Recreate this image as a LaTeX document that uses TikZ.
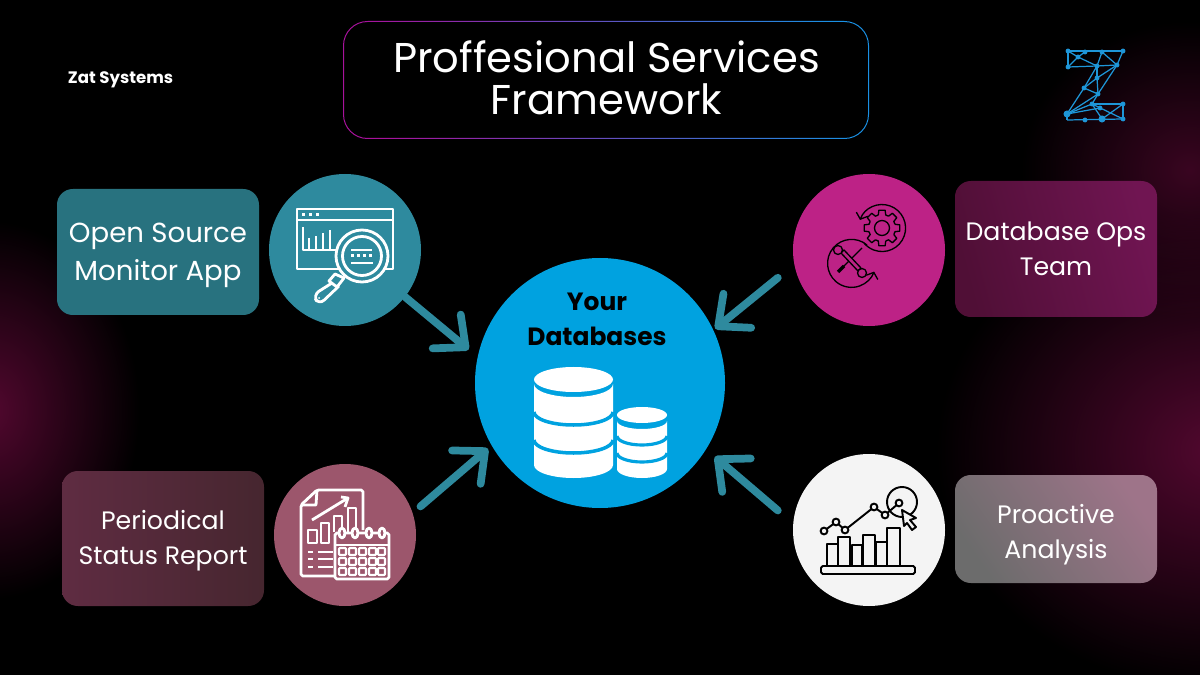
\documentclass[tikz,border=0pt]{standalone}
\usepackage{fontspec}
\setmainfont{Poppins}
\usetikzlibrary{positioning,calc,arrows.meta,fadings}
\definecolor{panelteal}{HTML}{2E8A9E}
\definecolor{panelrose}{HTML}{9C566C}
\definecolor{panelpink}{HTML}{BD2286}
\definecolor{panelgrey}{HTML}{F4F4F4}
\definecolor{dbblue}{HTML}{00A2E0}
\definecolor{logoblue}{HTML}{1E96D8}
\definecolor{glowred}{HTML}{52082F}
\definecolor{tealflat}{HTML}{28727F}
\definecolor{roseleft}{HTML}{5F2C42}
\definecolor{roseright}{HTML}{46262F}
\definecolor{opsleft}{HTML}{500F36}
\definecolor{opsright}{HTML}{701552}
\definecolor{greyleft}{HTML}{6C6C6C}
\definecolor{greyright}{HTML}{9E7489}
\definecolor{framel}{HTML}{A8129C}
\definecolor{framem}{HTML}{3A4AA8}
\definecolor{framer}{HTML}{1A90E4}
\tikzfading[name=glowfade,inner color=transparent!0,outer color=transparent!100]
\tikzset{
  caption/.style={text=white,align=center,font=\fontsize{14.35}{20}\selectfont},
  iconw/.style={draw=white,line width=1.6pt,line join=round},
  iconk/.style={draw=black,line width=1.1pt,line join=round},
  icont/.style={draw=black,line width=.75pt,line join=round},
  linkarrow/.style={draw=panelteal,line width=4.4pt,line cap=round,line join=round,-{Straight Barb[length=14pt,width=25pt,round]}},
  logoline/.style={draw=logoblue,line width=.7pt},
  logodot/.style={circle,fill=logoblue,inner sep=0pt,minimum size=2.8pt},
  bigdisc/.style={circle,inner sep=0pt,minimum size=#1*0.02cm},
}
\begin{document}
\begin{tikzpicture}[x=0.02cm,y=-0.02cm]
\useasboundingbox (0,0) rectangle (1200,675);
\fill[black] (0,0) rectangle (1200,675);

% Background glows
\begin{scope}
\clip (0,0) rectangle (1200,675);
\fill[glowred,path fading=glowfade] (-10,410) ellipse[x radius=150,y radius=190];
\fill[glowred,path fading=glowfade] (1215,450) ellipse[x radius=280,y radius=240];
\fill[glowred,opacity=.7,path fading=glowfade] (1190,170) ellipse[x radius=170,y radius=150];
\end{scope}

% Title
\path[even odd rule,left color=framel,middle color=framem,right color=framer,shading angle=100]
  [rounded corners=14] (343,21) rectangle (869,139)
  [rounded corners=13.4] (344,22) rectangle (868,138);
\node[text=white,align=center,font=\fontsize{23.7}{24}\selectfont] (title) at (606.5,78) {Proffesional Services\\Framework};
\node[text=white,font=\fontsize{9.45}{11}\selectfont\bfseries] (brand) at (120.5,80) {Zat Systems};

% Logo
\foreach \n/\x/\y in {a/1068/51,b/1085/52,c/1102/52,d/1123/51,e/1078/57,f/1068/67,g/1097/66,h/1117/65,i/1097/78,j/1084/88,k/1098/94,l/1092/104,m/1123/104,n/1100/108,o/1067/114,p/1085/120,q/1102/119,r/1123/119,s/1067/120}
  \coordinate (lg\n) at (\x,\y);
\foreach \p/\q in {a/d,a/f,f/g,a/e,e/b,e/f,e/g,c/g,c/h,d/h,h/g,g/j,g/i,h/i,h/k,i/k,j/k,j/i,j/o,k/o,k/l,l/m,l/o,l/r,l/q,n/o,m/q,m/r,o/s,s/r}
  \draw[logoline] (lg\p) -- (lg\q);
\foreach \n in {a,b,c,d,e,f,g,h,i,j,k,l,m,n,p,r}
  \node[logodot] at (lg\n) {};
\node[logodot,minimum size=4pt] at (lgo) {};
\node[logodot,minimum size=4pt] at (lgq) {};

% Text panels
\fill[tealflat,rounded corners=9] (57,189) rectangle (259,315);
\node[caption,font=\fontsize{15.7}{21.5}\selectfont] (monitor) at (158,255.5) {Open Source\\Monitor App};
\path[left color=roseleft,right color=roseright,rounded corners=9] (62,471) rectangle (264,606);
\node[caption] (report) at (163,541) {Periodical\\Status Report};
\path[left color=opsleft,right color=opsright,shading angle=105,rounded corners=9] (955,181) rectangle (1157,317);
\node[caption] (ops) at (1056,249) {Database Ops\\Team};
\path[left color=greyleft,right color=greyright,shading angle=125,rounded corners=9] (955,475) rectangle (1157,583);
\node[caption] (analysis) at (1056,535) {Proactive\\Analysis};

% Circles
\node[bigdisc=152,fill=panelteal] (monitorc) at (345,250) {};
\node[bigdisc=142,fill=panelrose] (reportc) at (345,535) {};
\node[bigdisc=152,fill=panelpink] (opsc) at (869,250) {};
\node[bigdisc=152,fill=panelgrey] (analysisc) at (869,530) {};
\node[bigdisc=250,fill=dbblue] (db) at (600,383) {};
\node[font=\fontsize{14.2}{20}\selectfont\bfseries,text=black,align=center] (dbtext) at (597,319) {Your\\Databases};

% Arrows
\draw[linkarrow,shorten >=6.5pt] (monitorc.-38) -- (db.168.6);
\draw[linkarrow,shorten <=5.7pt,shorten >=2.6pt] (reportc.18) -- (db.210.9);
\draw[linkarrow,shorten <=11.9pt,shorten >=1.2pt] (opsc.191.4) -- (db.25.4);
\draw[linkarrow,shorten <=11.3pt,shorten >=6.4pt] (analysisc.175.3) -- (db.-32.5);

% Database stacks
\fill[white] (534,384) -- (534,465) arc[start angle=180,end angle=0,x radius=39.5,y radius=13] -- (613,384) arc[start angle=0,end angle=180,x radius=39.5,y radius=13] -- cycle;
\fill[white] (573.5,379.5) ellipse[x radius=39.5,y radius=12.5];
\foreach \y in {412,440}
  \draw[dbblue,line width=2pt] (534,\y) arc[start angle=180,end angle=0,x radius=39.5,y radius=13];
\fill[white] (617,421) -- (617,469) arc[start angle=180,end angle=0,x radius=25,y radius=9] -- (667,421) arc[start angle=0,end angle=180,x radius=25,y radius=8] -- cycle;
\fill[white] (642,415) ellipse[x radius=25,y radius=8];
\foreach \y in {436,453}
  \draw[dbblue,line width=1.8pt] (617,\y) arc[start angle=180,end angle=0,x radius=25,y radius=9];

% Icon: window and magnifier
\draw[iconw] (297,209) rectangle (393,269);
\draw[iconw] (297,220) -- (393,220);
\foreach \x in {303,310,317} \fill[white] (\x-1.5,213.5) rectangle (\x+1.5,216.5);
\draw[iconw] (303,227) -- (303,250) -- (336,250);
\foreach \x/\y in {309/238,316/236,323/233,330/230}
  \draw[iconw] (\x,250) -- (\x,\y);
\fill[panelteal] (362,256) circle (26);
\draw[iconw] (362,256) circle (26);
\draw[iconw] (362,256) circle (19.5);
\draw[iconw] (351,250) -- (372,250);
\draw[iconw] (351,263) -- (373,263);
\foreach \x in {352,358,364,370} \fill[white] (\x-1.5,254.5) rectangle (\x+1.5,257.5);
\draw[iconw] (335,274) -- (344,278) -- (337,287) -- (329,281) -- cycle;
\draw[iconw,rounded corners=4] (332,283) -- (313,295) -- (319,305) -- (339,286);
\fill[white] (319,298) circle (1);

% Icon: report and calendar
\draw[iconw,rounded corners=1] (335,576) -- (301,576) -- (301,505) -- (317,490) -- (363,490) -- (363,530);
\draw[iconw] (301,505) -- (316,505) -- (317,490);
\draw[iconw] (312,520) -- (348,498);
\draw[iconw] (341,497) -- (348,498) -- (345,507);
\draw[iconw] (308,530) rectangle (317,543);
\draw[iconw] (321,523) rectangle (329,543);
\draw[iconw] (334,532) -- (334,516) -- (342,516) -- (342,532);
\draw[iconw] (348,532) -- (348,508) -- (356,508) -- (356,532);
\foreach \y in {552,559,567}{
  \draw[iconw] (308,\y) -- (313,\y);
  \draw[iconw] (318,\y) -- (333,\y);
}
\fill[panelrose] (335,533) rectangle (389,579);
\draw[iconw,rounded corners=1] (335,579) rectangle (389,533);
\draw[iconw] (335,545) -- (389,545);
\foreach \x in {342,355,369,382}
  \draw[iconw,fill=panelrose] (\x,533) ellipse[x radius=3,y radius=5];
\foreach \x in {339,349,359,369,378}
  \foreach \y in {548,558,568}
    \draw[iconw,line width=1.2pt,rounded corners=.5] (\x,\y) rectangle (\x+7,\y+7);

% Icon: gear and tools
\coordinate (gearc) at (882,228);
\draw[icont] (gearc) circle (7.5);
\foreach \a in {0,45,...,315}
  \draw[icont] ($(gearc)+(\a-16:13.5)$) -- ($(gearc)+(\a-10:18)$) -- ($(gearc)+(\a+10:18)$) -- ($(gearc)+(\a+16:13.5)$) -- ($(gearc)+(\a+29:13.5)$);
\draw[icont,{Straight Barb[length=3pt,width=7pt]}-] (860,220) arc[start angle=200,end angle=500,radius=23.5];
\draw[icont,-{Straight Barb[length=3pt,width=7pt]}] (867,245) arc[start angle=-50,end angle=-340,radius=24];
\draw[icont] (862,248) -- (840,270);
\draw[icont,line width=2pt] (844,266) -- (838,272);
\draw[icont,fill=panelpink] (841,253) -- (858,271) -- (861,268) -- (844,250) -- cycle;
\draw[icont,fill=panelpink] (838,250) circle (4.5);
\draw[icont,fill=panelpink] (862,273) circle (4.5);

% Icon: chart and pointer
\draw[iconk,rounded corners=1] (821,566) rectangle (915,574);
\foreach \x/\w/\y in {827/11/544,838/12/537,852/10/545,863/12/535,876/11/542,887/13/528}
  \draw[iconk] (\x,566) -- (\x,\y) -- (\x+\w,\y) -- (\x+\w,566);
\draw[iconk] (824,531) -- (836,522) -- (845,530) -- (874,507) -- (885,515) -- (899,503);
\foreach \x/\y in {824/531,836/522,845/530,874/507,885/515,899/503}
  \draw[iconk,fill=panelgrey] (\x,\y) circle (3.4);
\draw[iconk] (902,502) circle (15);
\draw[iconk,fill=panelgrey] (902,510) -- (916,518) -- (910,520) -- (916,527) -- (912,530) -- (907,523) -- (904,526) -- cycle;
\end{tikzpicture}
\end{document}
